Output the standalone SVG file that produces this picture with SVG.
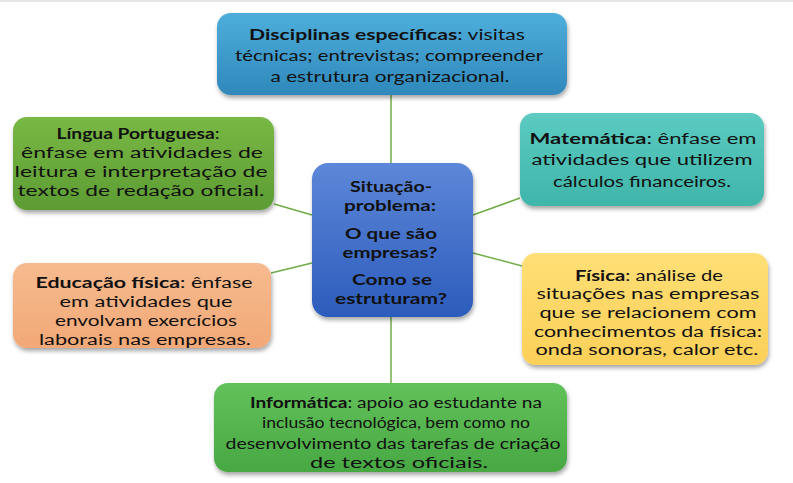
<svg xmlns="http://www.w3.org/2000/svg" width="793" height="483" viewBox="0 0 793 483">
<style>
text{font-family:Lato,"Liberation Sans",sans-serif;font-size:15.5px;fill:#111;text-anchor:middle;dominant-baseline:central}
.b{font-weight:bold}
.c text{font-size:16px;font-weight:bold}
.box{filter:url(#sh)}
.con line{stroke:#70ad47;stroke-width:1.5}
</style>
<defs>
<filter id="sh" x="-10%" y="-10%" width="120%" height="130%">
<feDropShadow dx="1" dy="3" stdDeviation="2" flood-color="#000" flood-opacity="0.35"/>
</filter>
<linearGradient id="gBlue" x1="0" y1="0" x2="0" y2="1"><stop offset="0" stop-color="#4eaedb"/><stop offset="1" stop-color="#2f88bb"/></linearGradient>
<linearGradient id="gGreen" x1="0" y1="0" x2="0" y2="1"><stop offset="0" stop-color="#78b844"/><stop offset="1" stop-color="#5d9c33"/></linearGradient>
<linearGradient id="gOrange" x1="0" y1="0" x2="0" y2="1"><stop offset="0" stop-color="#f6bb8f"/><stop offset="1" stop-color="#f2a877"/></linearGradient>
<linearGradient id="gCenter" x1="0" y1="0" x2="0" y2="1"><stop offset="0" stop-color="#5d87d8"/><stop offset="1" stop-color="#2c5cbc"/></linearGradient>
<linearGradient id="gTeal" x1="0" y1="0" x2="0" y2="1"><stop offset="0" stop-color="#5ccbc1"/><stop offset="1" stop-color="#3fb5aa"/></linearGradient>
<linearGradient id="gYellow" x1="0" y1="0" x2="0" y2="1"><stop offset="0" stop-color="#ffdf76"/><stop offset="1" stop-color="#fbd058"/></linearGradient>
<linearGradient id="gInfo" x1="0" y1="0" x2="0" y2="1"><stop offset="0" stop-color="#62c15a"/><stop offset="1" stop-color="#48a843"/></linearGradient>
</defs>
<rect x="0" y="0" width="793" height="483" fill="#fff"/>
<rect x="0" y="0" width="793" height="2" fill="#e6e6e6"/>
<g id="connectors" class="con">
<line x1="391" y1="95" x2="391" y2="163"/>
<line x1="391" y1="317" x2="391" y2="383"/>
<line x1="274" y1="204" x2="312" y2="215"/>
<line x1="271" y1="273" x2="312" y2="263"/>
<line x1="473" y1="215" x2="520" y2="198"/>
<line x1="473" y1="253" x2="522" y2="266"/>
</g>
<g id="disciplinas">
<rect class="box" x="217" y="13" width="350" height="82" rx="14" fill="url(#gBlue)"/>
<text x="387" y="34" textLength="276" lengthAdjust="spacingAndGlyphs"><tspan class="b">Disciplinas específicas</tspan>: visitas</text>
<text x="389" y="55" textLength="308" lengthAdjust="spacingAndGlyphs">técnicas; entrevistas; compreender</text>
<text x="390" y="76" textLength="239" lengthAdjust="spacingAndGlyphs">a estrutura organizacional.</text>
</g>
<g id="lingua">
<rect class="box" x="13" y="117" width="261" height="93" rx="14" fill="url(#gGreen)"/>
<text x="138" y="133" textLength="163" lengthAdjust="spacingAndGlyphs"><tspan class="b">Língua Portuguesa</tspan>:</text>
<text x="142" y="152" textLength="242" lengthAdjust="spacingAndGlyphs">ênfase em atividades de</text>
<text x="141" y="171" textLength="253" lengthAdjust="spacingAndGlyphs">leitura e interpretação de</text>
<text x="141" y="190" textLength="247" lengthAdjust="spacingAndGlyphs">textos de redação oficial.</text>
</g>
<g id="educacao">
<rect class="box" x="13" y="263" width="258" height="85" rx="14" fill="url(#gOrange)"/>
<text x="144" y="282" textLength="217" lengthAdjust="spacingAndGlyphs"><tspan class="b">Educação física</tspan>: ênfase</text>
<text x="146" y="301" textLength="173" lengthAdjust="spacingAndGlyphs">em atividades que</text>
<text x="146" y="320" textLength="182" lengthAdjust="spacingAndGlyphs">envolvam exercícios</text>
<text x="145" y="339" textLength="212" lengthAdjust="spacingAndGlyphs">laborais nas empresas.</text>
</g>
<g id="centro" class="c">
<rect class="box" x="312" y="163" width="161" height="154" rx="16" fill="url(#gCenter)"/>
<text x="391" y="185" textLength="82" lengthAdjust="spacingAndGlyphs">Situação-</text>
<text x="390" y="204" textLength="92" lengthAdjust="spacingAndGlyphs">problema:</text>
<text x="391" y="232" textLength="92" lengthAdjust="spacingAndGlyphs">O que são</text>
<text x="390" y="251" textLength="95" lengthAdjust="spacingAndGlyphs">empresas?</text>
<text x="392" y="278" textLength="80" lengthAdjust="spacingAndGlyphs">Como se</text>
<text x="391" y="297" textLength="112" lengthAdjust="spacingAndGlyphs">estruturam?</text>
</g>
<g id="matematica">
<rect class="box" x="520" y="113" width="244" height="93" rx="14" fill="url(#gTeal)"/>
<text x="643" y="138" textLength="227" lengthAdjust="spacingAndGlyphs"><tspan class="b">Matemática</tspan>: ênfase  em</text>
<text x="642" y="159" textLength="221" lengthAdjust="spacingAndGlyphs">atividades que utilizem</text>
<text x="642" y="181" textLength="178" lengthAdjust="spacingAndGlyphs">cálculos financeiros.</text>
</g>
<g id="fisica">
<rect class="box" x="522" y="253" width="246" height="112" rx="14" fill="url(#gYellow)"/>
<text x="649" y="275" textLength="148" lengthAdjust="spacingAndGlyphs"><tspan class="b">Física</tspan>: análise de</text>
<text x="648" y="293" textLength="223" lengthAdjust="spacingAndGlyphs">situações nas empresas</text>
<text x="648" y="312" textLength="217" lengthAdjust="spacingAndGlyphs">que se relacionem com</text>
<text x="648" y="331" textLength="228" lengthAdjust="spacingAndGlyphs">conhecimentos da física:</text>
<text x="647" y="349" textLength="223" lengthAdjust="spacingAndGlyphs">onda sonoras, calor etc.</text>
</g>
<g id="informatica">
<rect class="box" x="214" y="383" width="353" height="89" rx="14" fill="url(#gInfo)"/>
<text x="396" y="402" textLength="292" lengthAdjust="spacingAndGlyphs"><tspan class="b">Informática</tspan>: apoio ao estudante na</text>
<text x="396" y="422" textLength="268" lengthAdjust="spacingAndGlyphs">inclusão tecnológica, bem como no</text>
<text x="393" y="443" textLength="335" lengthAdjust="spacingAndGlyphs">desenvolvimento das tarefas de criação</text>
<text x="399" y="462" textLength="178" lengthAdjust="spacingAndGlyphs">de textos oficiais.</text>
</g>
</svg>
